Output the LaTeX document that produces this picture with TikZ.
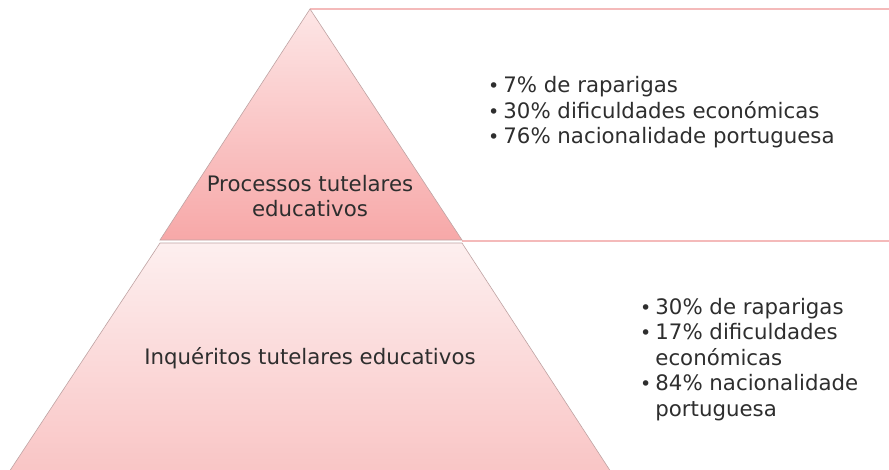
\documentclass[tikz,border=0pt]{standalone}
\usepackage{fontspec}
\usepackage{array}
\setmainfont{DejaVu Sans}
\definecolor{txt}{HTML}{2E2E2E}
\definecolor{rule}{HTML}{F4BABA}
\definecolor{edge}{HTML}{BFA3A3}
\definecolor{triTop}{HTML}{FDE6E6}
\definecolor{triBot}{HTML}{F7A8A8}
\definecolor{trapTop}{HTML}{FDEFEF}
\definecolor{trapBot}{HTML}{F9C5C5}
\tikzset{
  label/.style={text=txt, font=\fontsize{21.3}{25.5}\selectfont, inner sep=0pt, align=center},
  rulestyle/.style={draw=rule, line width=2pt},
  edgestyle/.style={draw=edge, line width=0.6pt},
}
\newcommand{\bul}{{\fontsize{19}{19}\selectfont\textbullet}}
\begin{document}
\begin{tikzpicture}[x=1pt,y=-1pt]
\useasboundingbox (0,0) rectangle (889,469);
\clip (0,0) rectangle (889,469);
\fill[white] (0,0) rectangle (889,469);
% horizontal rules
\coordinate (apex) at (310,9);
\coordinate (tr) at (889,9);
\coordinate (bl) at (462,241);
\coordinate (br) at (889,241);
\draw[rulestyle] (apex) -- (tr);
\draw[rulestyle] (bl) -- (br);
% top triangle
\shade[top color=triTop, bottom color=triBot] (310,9) -- (462,240) -- (160,240) -- cycle;
\draw[edgestyle] (310,9) -- (462,240) -- (160,240) -- cycle;
% lower trapezoid
\shade[top color=trapTop, bottom color=trapBot] (160,243) -- (462,243) -- (611,472) -- (9,472) -- cycle;
\draw[edgestyle] (160,243) -- (462,243) -- (611,472) -- (9,472) -- cycle;
% labels
\node[label] (proc) at (310,196) {Processos tutelares\\educativos};
\node[label] (inq) at (310,358) {Inquéritos tutelares educativos};
\node[label, anchor=west, align=left] (list1) at (488,113) {%
\begin{tabular}{@{}l@{\hspace{4pt}}l@{}}
\bul & 7\% de raparigas\\
\bul & 30\% dificuldades económicas\\
\bul & 76\% nacionalidade portuguesa
\end{tabular}};
\node[label, anchor=west, align=left] (list2) at (640,360) {%
\begin{tabular}{@{}l@{\hspace{4pt}}>{\raggedright\arraybackslash}p{215pt}@{}}
\bul & 30\% de raparigas\\
\bul & 17\% dificuldades económicas\\
\bul & 84\% nacionalidade portuguesa
\end{tabular}};
\end{tikzpicture}
\end{document}
